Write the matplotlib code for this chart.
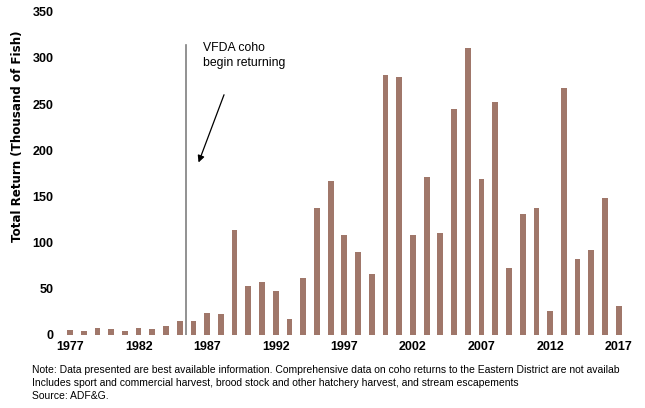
import numpy as np
import matplotlib.pyplot as plt

# Data
years = np.arange(1977, 2018)
returns = [5, 4.5, 8, 6, 4, 8, 7, 10, 15, 15,
           24, 23, 114, 53, 57, 48, 17, 62, 137, 167,
           108, 90, 66, 282, 279, 108, 171, 110, 245, 311,
           169, 252, 73, 131, 138, 26, 268, 82, 92, 148,
           31]
tick_years = np.arange(1977, 2018, 5)
y_ticks = np.arange(0, 351, 50)

note_lines = [
    "Note: Data presented are best available information. Comprehensive data on coho returns to the Eastern District are not availab",
    "Includes sport and commercial harvest, brood stock and other hatchery harvest, and stream escapements",
    "Source: ADF&G.",
]

plt.rcParams['font.family'] = ['Liberation Sans', 'DejaVu Sans']

fig = plt.figure(figsize=(6.45, 4.08), dpi=100)
ax = fig.add_axes([0.0915, 0.179, 0.889, 0.792])

ax.bar(years, returns, width=0.42, color='#a0776a', zorder=2)

# VFDA marker line and arrow
ax.plot([1985.45, 1985.45], [0, 314], color='#7f7f7f', lw=1.2, zorder=3)
ax.annotate("", xy=(1986.3, 184), xytext=(1988.3, 263),
            arrowprops=dict(arrowstyle='-|>', color='black', lw=0.9, mutation_scale=10))
ax.text(1986.7, 317, "VFDA coho\nbegin returning", fontsize=8.8, va='top', ha='left',
        linespacing=1.35)

ax.set_xlim(1976.2, 2018)
ax.set_ylim(0, 350)
ax.set_xticks(tick_years)
ax.set_yticks(y_ticks)
ax.tick_params(length=0, labelsize=9, pad=4)
for lab in ax.get_xticklabels() + ax.get_yticklabels():
    lab.set_fontweight('bold')
for s in ax.spines.values():
    s.set_visible(False)

fig.text(18 / 645, 0.665, "Total Return (Thousand of Fish)", rotation=90,
         ha='center', va='center', fontsize=8.6, fontweight='bold',
         family='DejaVu Sans')

for i, line in enumerate(note_lines):
    fig.text(32 / 645, (408 - 370 - 13 * i) / 408, line, fontsize=7.5,
             ha='left', va='center')

fig.savefig("out.png", dpi=100)
